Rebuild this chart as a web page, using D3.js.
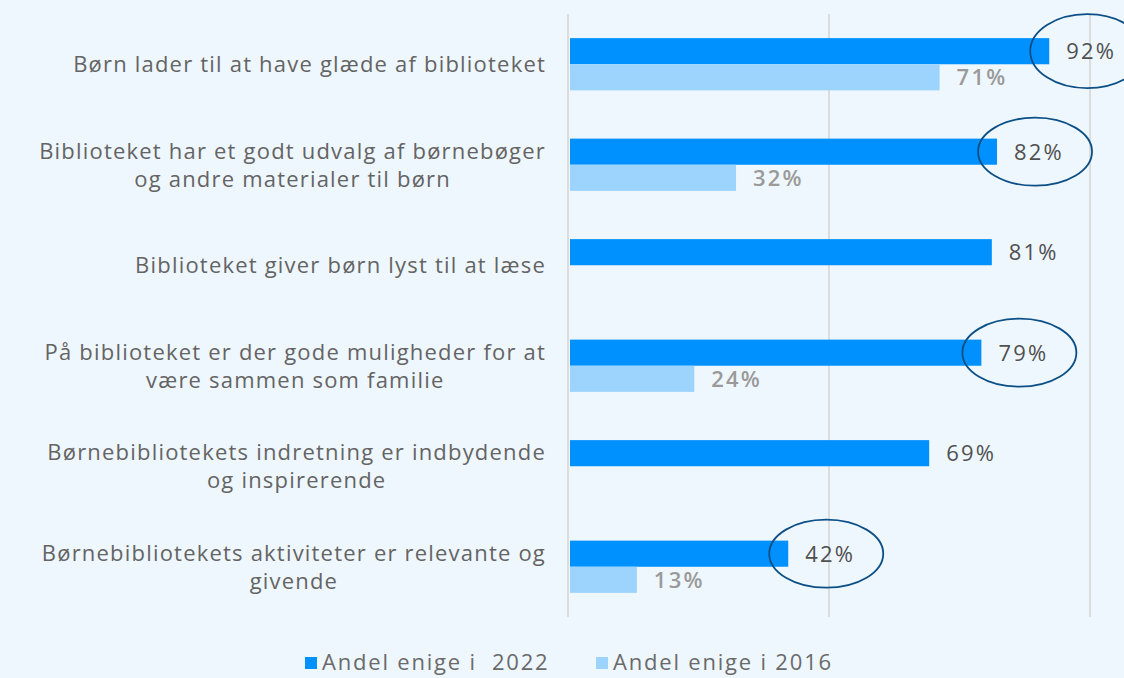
<!DOCTYPE html>
<html>
<head>
<meta charset="utf-8">
<script src="https://cdn.jsdelivr.net/npm/d3@7"></script>
<style>
  html, body { margin: 0; padding: 0; background: #eff7fe; }
  svg { display: block; font-family: "Open Sans", sans-serif; }
</style>
</head>
<body>
<div id="chart"></div>
<script>
// categories (line-wrapped as in the original)
let categories = [
  ['Børn lader til at have glæde af biblioteket'],
  ['Biblioteket har et godt udvalg af børnebøger', 'og andre materialer til børn'],
  ['Biblioteket giver børn lyst til at læse'],
  ['På biblioteket er der gode muligheder for at', 'være sammen som familie'],
  ['Børnebibliotekets indretning er indbydende', 'og inspirerende'],
  ['Børnebibliotekets aktiviteter er relevante og', 'givende']
]
let series = ['Andel enige i  2022', 'Andel enige i 2016']
let values2022 = [0.92, 0.82, 0.81, 0.79, 0.69, 0.42]
let values2016 = [0.71, 0.32, null, 0.24, null, 0.13]
let circled = [true, true, false, true, false, true]

let width = 1124
let height = 678
let colors = ['#0091ff', '#9dd4fd']

let svg = d3.select('#chart')
  .append('svg')
    .attr('width', width)
    .attr('height', height)

let x = d3.scaleLinear().domain([0, 1]).range([569, 1091])
let y = d3.scaleBand()
  .domain(d3.range(categories.length))
  .range([14, 617])
  .paddingInner(0.48)
  .paddingOuter(0.24)
let ySub = d3.scaleBand().domain([0, 1]).range([0, y.bandwidth()])

// gridlines
svg.append('g')
  .selectAll('line')
  .data([0, 0.5, 1])
  .enter()
  .append('line')
    .attr('x1', d => x(d) - 1)
    .attr('x2', d => x(d) - 1)
    .attr('y1', 14)
    .attr('y2', 617)
    .style('stroke', '#dcdcdc')
    .style('stroke-width', 2)

let rows = categories.map((c, i) => ({
  i: i,
  lines: c,
  vals: [values2022[i], values2016[i]],
  circled: circled[i]
}))

// bars
rows.forEach(r => {
  r.vals.forEach((v, s) => {
    if (v == null) return
    let yy = y(r.i) + ySub(s)
    svg.append('rect')
      .attr('x', x(0) + 1)
      .attr('y', yy)
      .attr('width', x(v) - x(0) - 1)
      .attr('height', ySub.bandwidth())
      .style('fill', colors[s])

    svg.append('text')
      .attr('x', x(v) + 17)
      .attr('y', yy + ySub.bandwidth() / 2)
      .attr('dy', '0.36em')
      .style('font-size', '22px')
      .style('letter-spacing', '2.2px')
      .style('font-weight', s === 0 ? 500 : 600)
      .style('fill', s === 0 ? '#505050' : '#9a9a9a')
      .text(Math.round(v * 100) + '%')
  })
})

// ellipse annotations
rows.filter(r => r.circled).forEach(r => {
  svg.append('ellipse')
    .attr('cx', x(r.vals[0]) + 38)
    .attr('cy', y(r.i) + ySub.bandwidth() / 2)
    .attr('rx', 57)
    .attr('ry', r.i === 0 ? 37 : 34)
    .style('fill', 'none')
    .style('stroke', '#0b4f86')
    .style('stroke-width', 1.8)
})

// category labels: block right-aligned, lines centred within block
let labelRight = 546
rows.forEach(r => {
  let g = svg.append('g')
  let lineH = 28
  let cy = y(r.i) + y.bandwidth() / 2
  let t = r.lines.map((l, k) =>
    g.append('text')
      .attr('y', cy + (k - (r.lines.length - 1) / 2) * lineH)
      .attr('dy', '0.36em')
      .style('font-size', '22px')
      .style('letter-spacing', '1.2px')
      .style('fill', '#646464')
      .text(l)
  )
  let w = d3.max(t, n => n.node().getComputedTextLength())
  t.forEach(n => {
    n.attr('x', labelRight - w / 2).attr('text-anchor', 'middle')
  })
})

// legend
let legendX = [305, 596]
series.forEach((s, k) => {
  svg.append('rect')
    .attr('x', legendX[k])
    .attr('y', 657)
    .attr('width', 12)
    .attr('height', 12)
    .style('fill', colors[k])
  svg.append('text')
    .attr('x', legendX[k] + 17)
    .attr('y', 662)
    .attr('dy', '0.36em')
    .style('font-size', '22px')
    .style('letter-spacing', '1.8px')
    .style('fill', '#6a6a6a')
    .attr('xml:space', 'preserve')
    .text(s)
})
</script>
</body>
</html>
